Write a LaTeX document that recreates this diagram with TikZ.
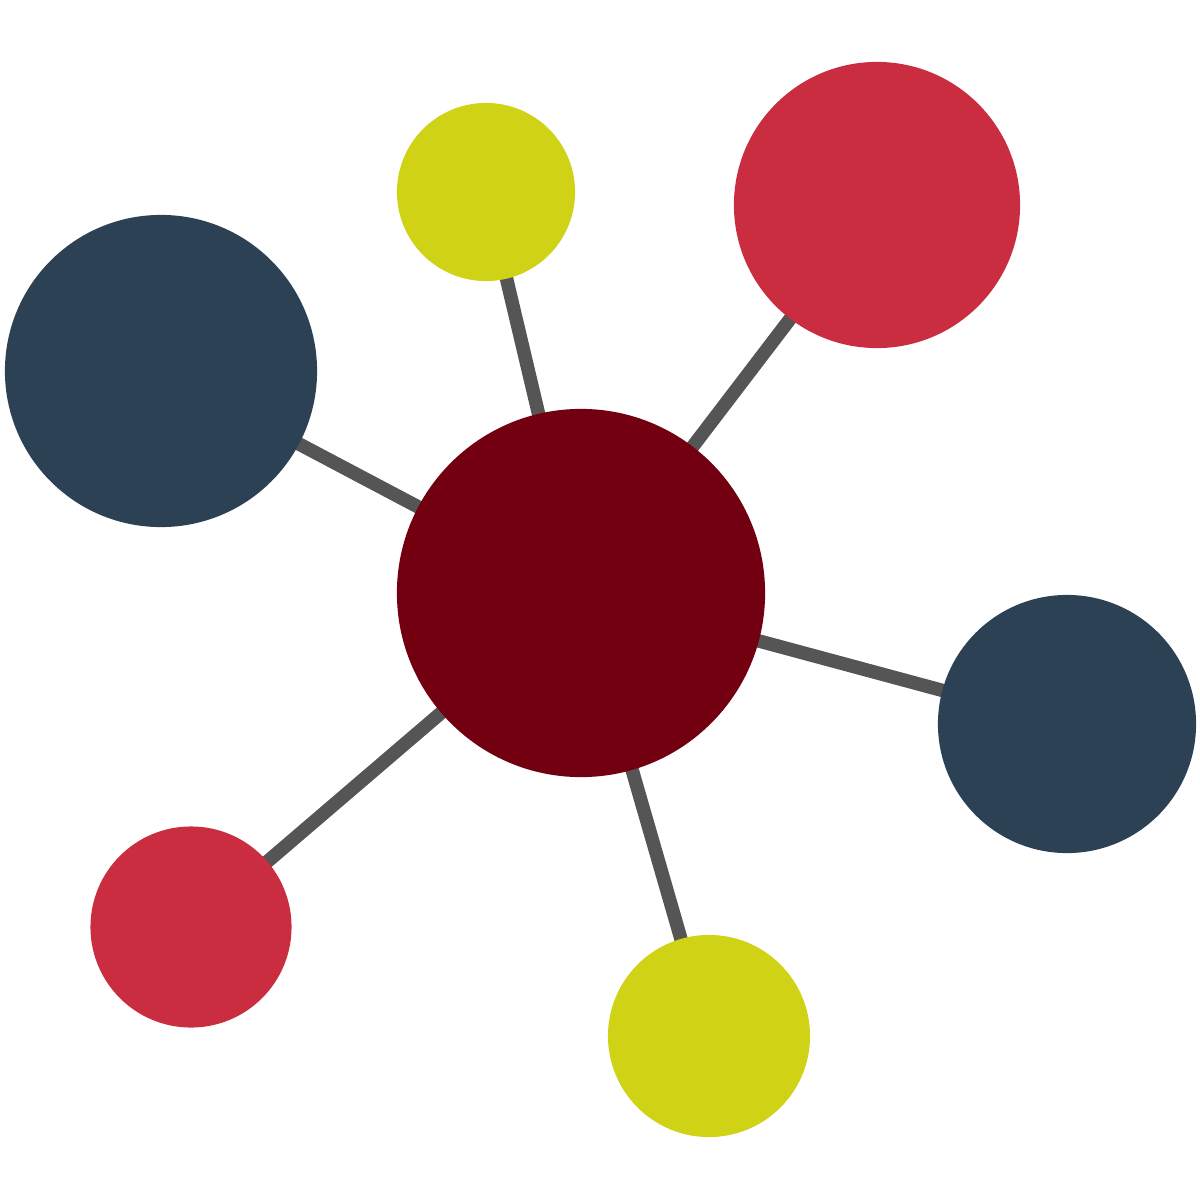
\documentclass[tikz,border=0pt]{standalone}
\definecolor{hubred}{HTML}{730010}
\definecolor{navy}{HTML}{2C4154}
\definecolor{lime}{HTML}{CFD215}
\definecolor{rose}{HTML}{CB2D40}
\definecolor{linkgrey}{HTML}{555555}
\tikzset{
  ball/.style={circle, inner sep=0pt, outer sep=0pt, draw=none},
  link/.style={draw=linkgrey, line width=0.135cm}
}
\begin{document}
\begin{tikzpicture}[x=0.01cm,y=-0.01cm]
\useasboundingbox (0,0) rectangle (1200,1200);
% coordinates for centres
\coordinate (c0) at (581,593);
\coordinate (c1) at (161,371);
\coordinate (c2) at (486,192);
\coordinate (c3) at (877,205);
\coordinate (c4) at (1067,724);
\coordinate (c5) at (709,1036);
\coordinate (c6) at (191,927);
% links
\foreach \i in {1,...,6} { \draw[link] (c0) -- (c\i); }
% nodes
\node[ball, fill=hubred, minimum size=3.68cm] (hub) at (c0) {};
\node[ball, fill=navy, minimum size=3.12cm] (n1) at (c1) {};
\node[ball, fill=lime, minimum size=1.78cm] (n2) at (c2) {};
\node[ball, fill=rose, minimum size=2.86cm] (n3) at (c3) {};
\node[ball, fill=navy, minimum size=2.58cm] (n4) at (c4) {};
\node[ball, fill=lime, minimum size=2.02cm] (n5) at (c5) {};
\node[ball, fill=rose, minimum size=2.01cm] (n6) at (c6) {};
\end{tikzpicture}
\end{document}
